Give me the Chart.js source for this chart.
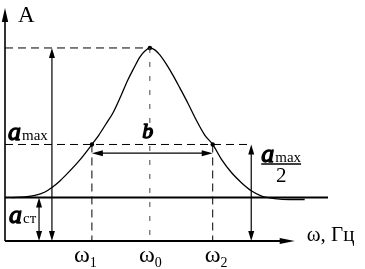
<!DOCTYPE html>
<html>
<head>
<meta charset="utf-8">
<script src="https://cdn.jsdelivr.net/npm/chart.js@4.4.0/dist/chart.umd.min.js"></script>
<style>
  html,body{margin:0;padding:0;background:#fff}
  #wrap{width:365px;height:269px;position:relative}
</style>
</head>
<body>
<div id="wrap"><canvas id="c"></canvas></div>
<script>
// resonance curve (omega in arbitrary units, omega0 = 10, a_max = 10)
var omega = [0.48, 1.38, 2.07, 2.76, 3.24, 3.79, 4.48, 5.17, 6.00, 6.48, 6.97, 7.45, 8.00, 8.48, 8.90, 9.31, 9.66, 10.0,
             10.34, 10.69, 11.17, 11.66, 12.07, 12.62, 13.17, 13.79, 14.34, 14.97, 15.66, 16.34, 17.03, 17.72, 18.62, 19.66, 20.69];
var amp   = [2.25, 2.28, 2.36, 2.54, 2.77, 3.11, 3.63, 4.20, 5.00, 5.49, 6.06, 6.63, 7.51, 8.34, 8.96, 9.53, 9.84, 10.0,
             9.90, 9.64, 9.12, 8.50, 7.93, 7.15, 6.32, 5.49, 5.00, 4.20, 3.52, 3.01, 2.59, 2.33, 2.20, 2.15, 2.15];
var tickValues = [6.00, 10.0, 14.34];
var tickSubs = ['1', '0', '2'];
var aMax = 10, aHalf = 5, aStatic = 2.25;
var bLevel = 4.55;
var xAxisEnd = 20.0, xMax = 22.3, yMax = 12.07;
var aStaticArrowX = 2.35, aMaxArrowX = 3.24, aHalfArrowX = 17.0;

var SERIF = '"Liberation Serif", "DejaVu Serif", serif';

var sketch = {
  id: 'sketch',
  afterDatasetsDraw: function(chart){
    var ctx = chart.ctx, xs = chart.scales.x, ys = chart.scales.y;
    function X(v){ return xs.getPixelForValue(v) }
    function Y(v){ return ys.getPixelForValue(v) }
    ctx.save();
    ctx.strokeStyle = '#000'; ctx.fillStyle = '#000';
    function seg(x1, y1, x2, y2, w, dash){
      ctx.save(); ctx.lineWidth = w; ctx.setLineDash(dash || []);
      ctx.beginPath(); ctx.moveTo(x1, y1); ctx.lineTo(x2, y2); ctx.stroke(); ctx.restore();
    }
    function head(tx, ty, dx, dy, len, hw){
      var bx = tx - dx*len, by = ty - dy*len;
      ctx.beginPath(); ctx.moveTo(tx, ty);
      ctx.lineTo(bx - dy*hw, by + dx*hw);
      ctx.lineTo(bx + dy*hw, by - dx*hw);
      ctx.closePath(); ctx.fill();
    }
    function vArrow(x, yA, yB){ // double headed, yA top value, yB bottom value
      var p = X(x), t = Y(yA), b = Y(yB);
      seg(p, t + 4, p, b - 4, 1.2);
      head(p, t, 0, -1, 10, 3);
      head(p, b, 0, 1, 10, 3);
    }
    // heavy italic letter: regular italic face, thickened with a stroke
    function heavy(ch, x, y, size){
      ctx.save();
      ctx.font = 'italic ' + size + 'px ' + SERIF;
      ctx.lineWidth = 1.3; ctx.lineJoin = 'round';
      ctx.fillText(ch, x, y); ctx.strokeText(ch, x, y);
      var w = ctx.measureText(ch).width;
      ctx.restore();
      return w;
    }

    // axes
    var x0 = X(0), y0 = Y(0);
    seg(x0, y0, x0, Y(yMax) + 8, 1.6);
    head(x0, Y(yMax), 0, -1, 14, 3.2);
    seg(x0, y0, X(xAxisEnd) - 8, y0, 2);
    head(X(xAxisEnd), y0, 1, 0, 15, 3);
    // static level
    seg(x0, Y(aStatic), X(xMax), Y(aStatic), 2);

    // dashed guides
    var dash = [8, 5];
    seg(x0, Y(aMax), X(tickValues[1]), Y(aMax), 1, dash);
    seg(x0, Y(aHalf), X(aHalfArrowX), Y(aHalf), 1, dash);
    seg(X(tickValues[0]), Y(aHalf), X(tickValues[0]), y0, 1, dash);
    seg(X(tickValues[2]), Y(aHalf), X(tickValues[2]), y0, 1, dash);
    ctx.save(); ctx.strokeStyle = '#444';
    seg(X(tickValues[1]), Y(aMax), X(tickValues[1]), y0, 1, [5, 9]);
    ctx.restore();

    // double arrows
    vArrow(aMaxArrowX, aMax, 0);
    vArrow(aStaticArrowX, aStatic, 0);
    vArrow(aHalfArrowX, aHalf, 0);
    var bl = X(tickValues[0]), br = X(tickValues[2]), by = Y(bLevel);
    seg(bl + 4, by, br - 4, by, 1.4);
    head(bl, by, -1, 0, 11, 3);
    head(br, by, 1, 0, 11, 3);

    ctx.textBaseline = 'alphabetic'; ctx.textAlign = 'left';
    // "A"
    ctx.font = '23px ' + SERIF;
    ctx.fillText('A', x0 + 13, Y(yMax) + 14);
    // a with subscript-ish suffix
    function aLabel(left, base, sub){
      var w = heavy('a', left, base, 26);
      ctx.font = '15px ' + SERIF;
      ctx.fillText(sub, left + w + 1, base);
      return left + w + 1 + ctx.measureText(sub).width;
    }
    aLabel(x0 + 3, Y(aHalf) - 4.5, 'max');
    aLabel(x0 + 4, y0 - 18, 'ст');
    // a_max / 2
    var fl = X(aHalfArrowX) + 10;
    var fr = aLabel(fl, Y(aHalf) + 17.5, 'max');
    seg(fl, Y(aHalf) + 19.5, fr, Y(aHalf) + 19.5, 1.5);
    ctx.font = '21px ' + SERIF; ctx.textAlign = 'center';
    ctx.fillText('2', (fl + fr) / 2, Y(aHalf) + 38);
    // b
    ctx.textAlign = 'left';
    heavy('b', (bl + br) / 2 - 10, Y(aHalf) - 6.5, 22);

    // tick labels
    var shift = [-10, -3, 0];
    tickValues.forEach(function(v, i){
      var cx = X(v) + shift[i];
      ctx.font = '24px ' + SERIF; ctx.textAlign = 'center';
      ctx.fillText('ω', cx, y0 + 21);
      var w = ctx.measureText('ω').width;
      ctx.font = '14px ' + SERIF; ctx.textAlign = 'left';
      ctx.fillText(tickSubs[i], cx + w/2, y0 + 26);
    });
    // axis title
    ctx.font = '21px ' + SERIF; ctx.textAlign = 'left';
    ctx.fillText('ω, Гц', X(xAxisEnd) + 12, y0);
    ctx.restore();
  }
};

var curve = omega.map(function(v, i){ return {x: v, y: amp[i]} });
var marks = [{x: tickValues[0], y: aHalf}, {x: tickValues[1], y: aMax}, {x: tickValues[2], y: aHalf}];

new Chart(document.getElementById('c').getContext('2d'), {
  type: 'line',
  data: {
    datasets: [
      {data: curve, borderColor: '#000', borderWidth: 1.3, pointRadius: 0, cubicInterpolationMode: 'monotone', fill: false},
      {data: marks, showLine: false, pointRadius: 2.2, pointBackgroundColor: '#000', pointBorderColor: '#000', pointBorderWidth: 0}
    ]
  },
  options: {
    responsive: true, maintainAspectRatio: false, animation: false,
    layout: {padding: {left: 5, right: 37, top: 8, bottom: 28}},
    plugins: {legend: {display: false}, tooltip: {enabled: false}},
    scales: {
      x: {type: 'linear', min: 0, max: xMax, display: false},
      y: {type: 'linear', min: 0, max: yMax, display: false}
    }
  },
  plugins: [sketch]
});
</script>
</body>
</html>
